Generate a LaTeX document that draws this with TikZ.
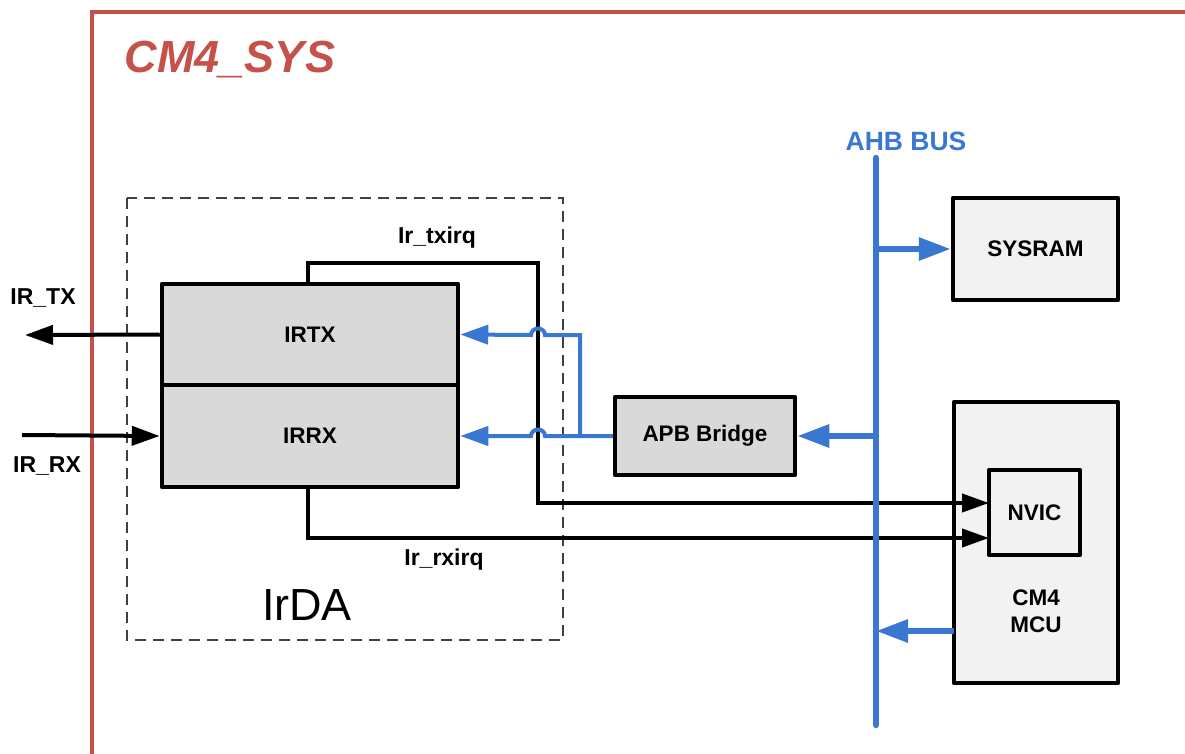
\documentclass[tikz,border=0pt]{standalone}
\usepackage{fontspec}
\setmainfont{Liberation Sans}
\usepackage{tikz}
\usetikzlibrary{arrows.meta}

\definecolor{sysred}{HTML}{C5524A}
\definecolor{busblue}{HTML}{3A77D0}
\definecolor{blkgray}{HTML}{D9D9D9}
\definecolor{blklight}{HTML}{F2F2F2}

\begin{document}
\begin{tikzpicture}[x=1pt,y=-1pt,
  blk/.style={draw=black,line width=4.5pt,line join=round,fill=blkgray,
    inner sep=0pt,font=\fontsize{22.5}{26}\selectfont\bfseries},
  blklt/.style={blk,fill=blklight},
  txt/.style={inner sep=0pt,font=\fontsize{23}{28}\selectfont\bfseries,align=center},
  sig/.style={line width=4pt,-{Triangle[length=28pt,width=19pt]}},
  irq/.style={line width=4pt,line join=miter,-{Triangle[length=27pt,width=18pt]}},
  apbline/.style={busblue,line width=4pt,-{Triangle[length=28pt,width=19pt]}},
  busline/.style={busblue,line width=6.5pt,line cap=round},
  busarrow/.style={busblue,line width=6pt,-{Triangle[length=32pt,width=22pt]}}]
  \useasboundingbox (0,0) rectangle (1185,753);

  % CM4_SYS frame (open at right and bottom)
  \draw[sysred,line width=4pt] (92,760) -- (92,12) -- (1190,12);
  \node[sysred,inner sep=0pt,font=\fontsize{45}{50}\selectfont\bfseries\itshape]
    (syslbl) at (230,60) {CM4\_SYS};

  % IrDA block
  \draw[black!75,line width=2pt,dash pattern=on 11pt off 7pt] (127,198) rectangle (563,640);
  \node[inner sep=0pt,font=\fontsize{45}{48}\selectfont] (irdalbl) at (307,605) {IrDA};
  \node[blk,minimum width=296,minimum height=101] (irtx) at (310,334.5) {IRTX};
  \node[blk,minimum width=296,minimum height=102] (irrx) at (310,436) {IRRX};

  % right side blocks
  \node[blk,minimum width=180,minimum height=78] (apb) at (705,436) {APB Bridge};
  \node[blklt,minimum width=165,minimum height=102] (sysram) at (1035.5,249) {SYSRAM};
  \node[blklt,minimum width=164,minimum height=281] (cm4) at (1036,542.5) {};
  \node[blklt,minimum width=91,minimum height=85] (nvic) at (1034.5,512.5) {NVIC};
  \node[txt,font=\fontsize{22.5}{27}\selectfont\bfseries] (mculbl) at (1036,611) {CM4\\MCU};

  % external pins
  \coordinate (irtxout) at (25,335);
  \coordinate (irrxin) at (22,435);
  \draw[sig] (irtx.west) -- (irtxout);
  \draw[sig] (irrxin) -- (irrx.west);
  \node[txt] (irtxlbl) at (43,298) {IR\_TX};
  \node[txt] (irrxlbl) at (47,466) {IR\_RX};

  % interrupt lines to NVIC
  \coordinate (txtap) at (308,284);
  \coordinate (rxtap) at (308,487);
  \coordinate (txturn) at (538,263);
  \coordinate (txend) at (989,503);
  \coordinate (rxend) at (989,538);
  \draw[irq] (txtap) |- (txturn) -- (txturn |- txend) -- (txend);
  \draw[irq] (rxtap) |- (rxend);
  \node[txt] (txirqlbl) at (437,238) {Ir\_txirq};
  \node[txt] (rxirqlbl) at (444,560) {Ir\_rxirq};

  % APB bridge to IRTX / IRRX (hops over the irq line)
  \coordinate (apbsplit) at (580,436);
  \draw[apbline] (apb.west) -- (545,436) to[out=90,in=0] (538,429.5)
    to[out=180,in=90] (531,436) -- (irrx.east);
  \draw[apbline,line join=miter] (apbsplit) -- (580,335) -- (545,335) to[out=90,in=0] (538,328.5)
    to[out=180,in=90] (531,335) -- (irtx.east);

  % AHB bus
  \coordinate (bustop) at (876,158);
  \coordinate (busbot) at (876,725);
  \coordinate (mcuout) at (954,631);
  \draw[busline] (bustop) -- (busbot);
  \node[txt,busblue,font=\fontsize{26.5}{30}\selectfont\bfseries] (ahblbl) at (906,141) {AHB BUS};
  \draw[busarrow] (bustop |- sysram) -- (sysram.west);
  \draw[busarrow] (bustop |- apb) -- (apb.east);
  \draw[busarrow] (mcuout) -- (bustop |- mcuout);
\end{tikzpicture}
\end{document}
